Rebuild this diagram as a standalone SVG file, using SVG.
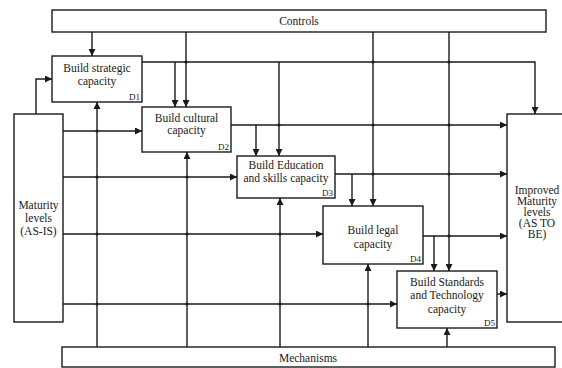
<svg xmlns="http://www.w3.org/2000/svg" width="562" height="368" viewBox="0 0 562 368">
<style>
.box{fill:#fff;stroke:#1a1a1a;stroke-width:1.4}
text{font-family:'Liberation Serif','Times New Roman','DejaVu Serif',serif;fill:#1a1a1a}
.t{font-size:11.5px;text-anchor:middle}
.lbl{font-size:9px;text-anchor:end}
.c{fill:none;stroke:#1a1a1a;stroke-width:1.4}
.a{marker-end:url(#ah)}
.dot{fill:#1a1a1a}
</style>
<defs>
<marker id="ah" viewBox="0 0 10 10" refX="10" refY="5" markerWidth="7" markerHeight="7" markerUnits="userSpaceOnUse" orient="auto">
<path d="M0,0 L10,5 L0,10 z" fill="#1a1a1a"/>
</marker>
</defs>
<rect width="562" height="368" fill="#fff"/>
<g id="connectors">
<path class="c a" d="M92,32 V56"/>
<path class="c a" d="M186,32 V107"/>
<path class="c a" d="M373,32 V206"/>
<path class="c a" d="M449,32 V271"/>
<path class="c a" d="M142,62 H535 V114"/>
<path class="c a" d="M175,62 V107"/>
<path class="c a" d="M279,62 V156"/>
<path class="c a" d="M231,125 H507"/>
<path class="c a" d="M256,125 V156"/>
<path class="c a" d="M335,174 H507"/>
<path class="c a" d="M352,174 V206"/>
<path class="c a" d="M423,236 H507"/>
<path class="c a" d="M434,236 V271"/>
<path class="c a" d="M497,294 H507"/>
<path class="c a" d="M36,114 V79 H52"/>
<path class="c a" d="M63,131 H142"/>
<path class="c a" d="M63,177 H237"/>
<path class="c a" d="M63,234 H323"/>
<path class="c a" d="M63,304 H397"/>
<path class="c a" d="M97,347 V102"/>
<path class="c a" d="M187,347 V152"/>
<path class="c a" d="M280,347 V198"/>
<path class="c a" d="M368,347 V264"/>
<path class="c a" d="M447,347 V328"/>
<g class="dot">
<circle cx="373" cy="62" r="1.6"/><circle cx="449" cy="62" r="1.6"/>
<circle cx="186" cy="62" r="1.6"/>
<circle cx="279" cy="125" r="1.6"/><circle cx="373" cy="125" r="1.6"/><circle cx="449" cy="125" r="1.6"/>
<circle cx="373" cy="174" r="1.6"/><circle cx="449" cy="174" r="1.6"/>
<circle cx="449" cy="236" r="1.6"/>
<circle cx="97" cy="131" r="1.6"/>
<circle cx="97" cy="177" r="1.6"/><circle cx="187" cy="177" r="1.6"/>
<circle cx="97" cy="234" r="1.6"/><circle cx="187" cy="234" r="1.6"/><circle cx="280" cy="234" r="1.6"/>
<circle cx="97" cy="304" r="1.6"/><circle cx="187" cy="304" r="1.6"/><circle cx="280" cy="304" r="1.6"/><circle cx="368" cy="304" r="1.6"/>
</g>
</g>
<g id="controls">
<rect class="box" x="52" y="10" width="494" height="22"/>
<text class="t" x="299" y="25">Controls</text>
</g>
<g id="mechanisms">
<rect class="box" x="62" y="347" width="493" height="20"/>
<text class="t" x="308" y="362">Mechanisms</text>
</g>
<g id="asis">
<rect class="box" x="14" y="114" width="49" height="208"/>
<text class="t" x="38.5" y="209">Maturity</text>
<text class="t" x="38.5" y="222">levels</text>
<text class="t" x="38.5" y="235">(AS-IS)</text>
</g>
<g id="tobe">
<rect class="box" x="507" y="114" width="64" height="208"/>
<text class="t" x="537" y="194">Improved</text>
<text class="t" x="537" y="205">Maturity</text>
<text class="t" x="537" y="216">levels</text>
<text class="t" x="537" y="227">(AS TO</text>
<text class="t" x="537" y="238">BE)</text>
</g>
<g id="d1">
<rect class="box" x="52" y="56" width="90" height="46"/>
<text class="t" x="97" y="72">Build strategic</text>
<text class="t" x="97" y="85">capacity</text>
<text class="lbl" x="140" y="100">D1</text>
</g>
<g id="d2">
<rect class="box" x="142" y="107" width="89" height="45"/>
<text class="t" x="186.5" y="122">Build cultural</text>
<text class="t" x="186.5" y="134">capacity</text>
<text class="lbl" x="229" y="150">D2</text>
</g>
<g id="d3">
<rect class="box" x="237" y="156" width="98" height="42"/>
<text class="t" x="286" y="169">Build Education</text>
<text class="t" x="286" y="182">and skills capacity</text>
<text class="lbl" x="333" y="196">D3</text>
</g>
<g id="d4">
<rect class="box" x="323" y="206" width="100" height="58"/>
<text class="t" x="373" y="234">Build legal</text>
<text class="t" x="373" y="248">capacity</text>
<text class="lbl" x="421" y="262">D4</text>
</g>
<g id="d5">
<rect class="box" x="397" y="271" width="100" height="57"/>
<text class="t" x="447" y="286">Build  Standards</text>
<text class="t" x="447" y="299">and Technology</text>
<text class="t" x="447" y="313">capacity</text>
<text class="lbl" x="495" y="326">D5</text>
</g>
</svg>
